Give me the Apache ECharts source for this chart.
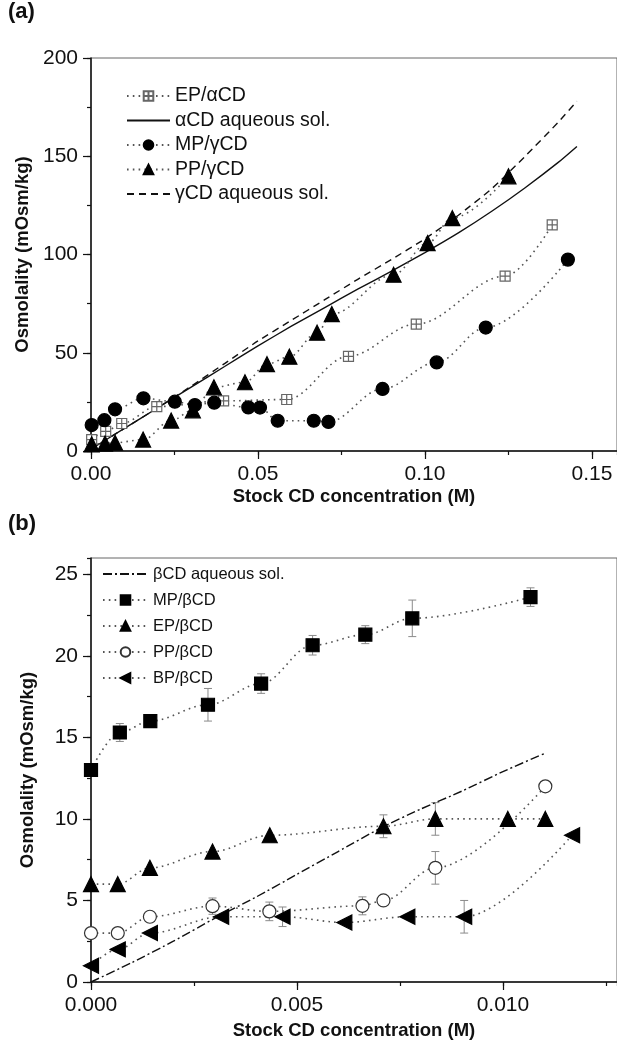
<!DOCTYPE html>
<html>
<head>
<meta charset="utf-8">
<script src="https://cdn.jsdelivr.net/npm/echarts@6/dist/echarts.min.js"></script>
<style>
  html, body { margin: 0; padding: 0; background: #fff; }
  #chart { width: 617px; height: 1056px; }
</style>
</head>
<body>
<div id="chart"></div>
<script>
// ---- panel (a) data ----
const epAlphaX = [0.0002, 0.0044, 0.0092, 0.0197, 0.0397, 0.0586, 0.0771, 0.0974, 0.124, 0.1381]
const epAlphaY = [5.8, 10, 14, 22.6, 25.5, 26.2, 48.2, 64.6, 89, 115.1]
const mpGammaX = [0.0002, 0.004, 0.0072, 0.0157, 0.0251, 0.0311, 0.0369, 0.0471, 0.0506, 0.0559, 0.0667, 0.0711, 0.0873, 0.1035, 0.1182, 0.1428]
const mpGammaY = [13.2, 15.7, 21.2, 26.8, 25.1, 23.4, 24.6, 22.2, 22.1, 15.4, 15.4, 14.8, 31.6, 45.1, 62.8, 97.4]
const ppGammaX = [0.0002, 0.0042, 0.0072, 0.0156, 0.024, 0.0305, 0.0368, 0.0461, 0.0527, 0.0594, 0.0677, 0.0721, 0.0906, 0.1008, 0.1082, 0.125]
const ppGammaY = [3.4, 3.8, 4.2, 5.8, 15.5, 20.7, 32.4, 35, 44.2, 48, 60.2, 69.7, 89.7, 105.8, 118.5, 139.8]
const alphaSolX = [0, 0.01, 0.02, 0.03, 0.04, 0.05, 0.06, 0.07, 0.08, 0.09, 0.1, 0.11, 0.12, 0.13, 0.14, 0.1455]
const alphaSolY = [1, 11.5, 22, 32.5, 43, 53.5, 63.5, 73, 82.5, 91.5, 101, 111, 122, 134, 147, 155]
const gammaSolX = [0, 0.01, 0.02, 0.03, 0.04, 0.05, 0.06, 0.07, 0.08, 0.09, 0.1, 0.11, 0.12, 0.13, 0.14, 0.1455]
const gammaSolY = [1, 11.5, 22, 33, 44.5, 56, 66.5, 77, 87.5, 97.5, 108, 120, 133.5, 150, 167.5, 178]

// ---- panel (b) data ----
const betaSolX = [0, 0.001, 0.002, 0.003, 0.004, 0.005, 0.006, 0.007, 0.008, 0.009, 0.01, 0.011]
const betaSolY = [0, 1.2, 2.5, 3.9, 5.2, 6.6, 8, 9.4, 10.6, 11.7, 12.9, 14.0]
const mpBetaX = [0, 0.0007, 0.00144, 0.00284, 0.00413, 0.00538, 0.00666, 0.0078, 0.01067]
const mpBetaY = [13, 15.3, 16, 17, 18.3, 20.65, 21.3, 22.3, 23.6]
const mpBetaErr = [0, 0.55, 0.2, 1.0, 0.6, 0.6, 0.55, 1.12, 0.57]
const epBetaX = [0, 0.00065, 0.00143, 0.00295, 0.00434, 0.0071, 0.00836, 0.01012, 0.01103]
const epBetaY = [6, 6, 7, 8, 9, 9.55, 10, 10, 10]
const epBetaErr = [0, 0, 0, 0, 0, 0.7, 1.0, 0, 0]
const ppBetaX = [0, 0.00065, 0.00143, 0.00295, 0.00433, 0.00659, 0.0071, 0.00836, 0.01103]
const ppBetaY = [3, 3, 4, 4.65, 4.33, 4.67, 5, 7, 12]
const ppBetaErr = [0, 0, 0, 0.5, 0.57, 0.55, 0, 1.0, 0]
const bpBetaX = [0, 0.00065, 0.00143, 0.00316, 0.00465, 0.00615, 0.00768, 0.00906, 0.01168]
const bpBetaY = [1, 2, 3, 4, 4, 3.65, 4, 4, 9]
const bpBetaErr = [0, 0, 0, 0, 0.6, 0, 0, 1.0, 0]

const FONT = 'Liberation Sans'
const pairs = (xs, ys) => xs.map((x, i) => [x, ys[i]])
const errData = (xs, ys, es) => xs.map((x, i) => [x, ys[i] - es[i], ys[i] + es[i]]).filter((d, i) => es[i] > 0)

// 带十字的方块、左指三角
const hatchSquare = 'path://M0,0H10V10H0Z M5,0V10 M0,5H10'
const leftTri = 'path://M0,5L10,0L10,10Z'

function renderErr(params, api) {
  const x = api.value(0)
  const lo = api.coord([x, api.value(1)])
  const hi = api.coord([x, api.value(2)])
  const w = 4
  const st = { stroke: '#8a8a8a', lineWidth: 1 }
  return {
    type: 'group',
    children: [
      { type: 'line', shape: { x1: lo[0], y1: lo[1], x2: hi[0], y2: hi[1] }, style: st },
      { type: 'line', shape: { x1: lo[0] - w, y1: lo[1], x2: lo[0] + w, y2: lo[1] }, style: st },
      { type: 'line', shape: { x1: hi[0] - w, y1: hi[1], x2: hi[0] + w, y2: hi[1] }, style: st }
    ]
  }
}

function dotted(name, xs, ys, symbol, size, grid, fill, border) {
  return {
    name, type: 'line', xAxisIndex: grid * 2, yAxisIndex: grid * 2,
    data: pairs(xs, ys), smooth: 0.35, smoothMonotone: 'x',
    symbol, symbolSize: size, z: 4,
    lineStyle: { color: '#555', width: 1.6, type: [1.6, 4.2] },
    itemStyle: { color: fill, borderColor: border, borderWidth: 1.2 }
  }
}

function plainLine(name, xs, ys, type, grid) {
  return {
    name, type: 'line', xAxisIndex: grid * 2, yAxisIndex: grid * 2,
    data: pairs(xs, ys), smooth: 0.2, showSymbol: false, symbol: 'none', z: 3,
    lineStyle: { color: '#111', width: 1.4, type },
    itemStyle: { color: '#111' }
  }
}

function errSeries(xs, ys, es, grid) {
  return {
    type: 'custom', xAxisIndex: grid * 2, yAxisIndex: grid * 2,
    renderItem: renderErr, data: errData(xs, ys, es), z: 2, silent: true,
    encode: { x: 0, y: [1, 2] }
  }
}

const tickLabel = { fontFamily: FONT, fontSize: 21, color: '#111' }
const axisName = { fontFamily: FONT, fontSize: 18.5, fontWeight: 'bold', color: '#111' }

function xAxes(grid, max, major, minor, digits, gap) {
  return [
    {
      type: 'value', gridIndex: grid, min: 0, max, interval: major, position: 'bottom',
      name: 'Stock CD concentration (M)', nameLocation: 'middle', nameGap: gap, nameTextStyle: axisName,
      axisLine: { lineStyle: { color: '#111', width: 1.5 } },
      axisTick: { length: 8, lineStyle: { color: '#111', width: 1.2 } },
      axisLabel: { ...tickLabel, margin: 13, showMaxLabel: false, formatter: v => v.toFixed(digits) },
      splitLine: { show: false }
    },
    {
      type: 'value', gridIndex: grid, min: 0, max, interval: minor, position: 'bottom',
      axisLine: { show: false },
      axisTick: { length: 4, lineStyle: { color: '#111', width: 1.2 } },
      axisLabel: { show: false }, splitLine: { show: false }
    }
  ]
}

function yAxes(grid, max, major, minor) {
  return [
    {
      type: 'value', gridIndex: grid, min: 0, max, interval: major, position: 'left',
      name: 'Osmolality (mOsm/kg)', nameLocation: 'middle', nameGap: 54, nameTextStyle: axisName,
      axisLine: { show: true, lineStyle: { color: '#111', width: 1.5 } },
      axisTick: { show: true, length: 8, lineStyle: { color: '#111', width: 1.2 } },
      axisLabel: { ...tickLabel, margin: 13, showMaxLabel: max % major === 0 },
      splitLine: { show: false }
    },
    {
      type: 'value', gridIndex: grid, min: 0, max, interval: minor, position: 'left',
      axisLine: { show: false },
      axisTick: { show: true, length: 4, lineStyle: { color: '#111', width: 1.2 } },
      axisLabel: { show: false }, splitLine: { show: false }
    }
  ]
}

// 实线/虚线图例只画线，不画点
const lineOnly = name => ({ name, itemStyle: { opacity: 0 } })

const option = {
  animation: false,
  backgroundColor: '#fff',
  graphic: [
    { type: 'text', left: 8, top: 1, style: { text: '(a)', font: 'bold 22px "Liberation Sans"', fill: '#111' } },
    { type: 'text', left: 8, top: 513, style: { text: '(b)', font: 'bold 22px "Liberation Sans"', fill: '#111' } }
  ],
  grid: [
    { left: 91, top: 58, width: 526, height: 393, show: true, borderColor: '#666', borderWidth: 1 },
    { left: 91, top: 558, width: 526, height: 424, show: true, borderColor: '#666', borderWidth: 1 }
  ],
  xAxis: [...xAxes(0, 0.1575, 0.05, 0.025, 2, 36), ...xAxes(1, 0.01277, 0.005, 0.0025, 3, 39)],
  yAxis: [...yAxes(0, 200, 50, 25), ...yAxes(1, 26, 5, 2.5)],
  legend: [
    {
      left: 121, top: 81, orient: 'vertical', itemWidth: 43, itemHeight: 12, itemGap: 4.5,
      textStyle: { fontFamily: FONT, fontSize: 19.5, lineHeight: 20, color: '#111' },
      data: ['EP/αCD', lineOnly('αCD aqueous sol.'), 'MP/γCD', 'PP/γCD', lineOnly('γCD aqueous sol.')]
    },
    {
      left: 97, top: 559, orient: 'vertical', itemWidth: 45, itemHeight: 12, itemGap: 6,
      textStyle: { fontFamily: FONT, fontSize: 16.5, lineHeight: 20, color: '#111' },
      data: [lineOnly('βCD aqueous sol.'), 'MP/βCD', 'EP/βCD', 'PP/βCD', 'BP/βCD']
    }
  ],
  series: [
    // (a)
    plainLine('αCD aqueous sol.', alphaSolX, alphaSolY, 'solid', 0),
    plainLine('γCD aqueous sol.', gammaSolX, gammaSolY, [7, 5], 0),
    dotted('EP/αCD', epAlphaX, epAlphaY, hatchSquare, 10, 0, '#fff', '#666'),
    dotted('MP/γCD', mpGammaX, mpGammaY, 'circle', 13, 0, '#000', '#000'),
    dotted('PP/γCD', ppGammaX, ppGammaY, 'triangle', 15, 0, '#000', '#000'),
    // (b)
    plainLine('βCD aqueous sol.', betaSolX, betaSolY, [9, 3, 2, 3], 1),
    errSeries(mpBetaX, mpBetaY, mpBetaErr, 1),
    errSeries(epBetaX, epBetaY, epBetaErr, 1),
    errSeries(ppBetaX, ppBetaY, ppBetaErr, 1),
    errSeries(bpBetaX, bpBetaY, bpBetaErr, 1),
    dotted('MP/βCD', mpBetaX, mpBetaY, 'rect', 13, 1, '#000', '#000'),
    dotted('EP/βCD', epBetaX, epBetaY, 'triangle', 15, 1, '#000', '#000'),
    dotted('PP/βCD', ppBetaX, ppBetaY, 'circle', 13, 1, '#fff', '#333'),
    dotted('BP/βCD', bpBetaX, bpBetaY, leftTri, 15, 1, '#000', '#000')
  ]
}

const chart = echarts.init(document.getElementById('chart'), null, { renderer: 'canvas' })
chart.setOption(option)
</script>
</body>
</html>
